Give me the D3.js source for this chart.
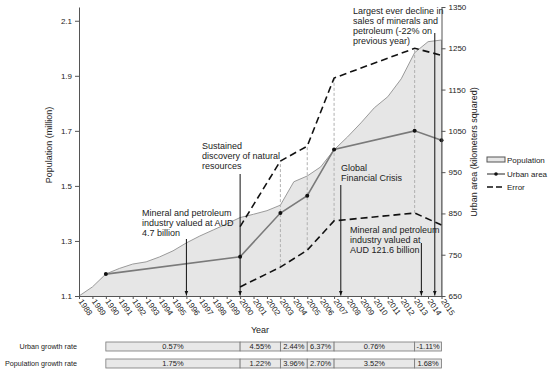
<!DOCTYPE html>
<html><head><meta charset="utf-8">
<script src="https://cdn.jsdelivr.net/npm/d3@7"></script>
<style>
body{margin:0;background:#fff;}
svg text{font-family:"Liberation Sans",Arial,sans-serif;fill:#222;}
</style></head>
<body><svg id="c" width="550" height="371"></svg>
<script>
const years=[1988,1989,1990,1991,1992,1993,1994,1995,1996,1997,1998,1999,2000,2001,2002,2003,2004,2005,2006,2007,2008,2009,2010,2011,2012,2013,2014,2015];
const population=[1.10,1.133,1.18,1.20,1.216,1.224,1.242,1.264,1.293,1.318,1.34,1.362,1.385,1.397,1.41,1.43,1.515,1.536,1.569,1.631,1.678,1.729,1.784,1.824,1.889,1.984,2.024,2.03];
const urbanYears=[1990,2000,2003,2005,2007,2013,2015];
const urbanArea=[703,745,851,893,1005,1050,1027];
const errorYears=[2000,2003,2005,2007,2013,2015];
const errorUpper=[818,977,1013,1178,1250,1233];
const errorLower=[672,720,761,832,851,822];
const leftTicks=[1.1,1.3,1.5,1.7,1.9,2.1];
const rightTicks=[650,750,850,950,1050,1150,1250,1350];
const periodStart=[1990,2000,2003,2005,2007,2013];
const periodEnd=[2000,2003,2005,2007,2013,2015];
const urbanGrowth=["0.57%","4.55%","2.44%","6.37%","0.76%","-1.11%"];
const popGrowth=["1.75%","1.22%","3.96%","2.70%","3.52%","1.68%"];
const annotations=[
 {year:1996,lines:["Mineral and petroleum","industry valued at AUD","4.7 billion"]},
 {year:2000,lines:["Sustained","discovery of natural","resources"]},
 {year:2007.5,lines:["Global","Financial Crisis"]},
 {year:2013.5,lines:["Mineral and petroleum","industry valued at","AUD 121.6 billion"]},
 {year:2014.5,lines:["Largest ever decline in","sales of minerals and","petroleum (-22% on","previous year)"]}
];

const svg=d3.select("#c");
const x=d3.scaleLinear().domain([1988,2015]).range([79,441.5]);
const yL=d3.scaleLinear().domain([1.1,2.15]).range([296,7]);
const yR=d3.scaleLinear().domain([650,1350]).range([296,7]);

svg.append("defs").append("marker").attr("id","ah").attr("viewBox","0 0 10 10")
 .attr("refX",10).attr("refY",5).attr("markerWidth",5).attr("markerHeight",5).attr("orient","auto")
 .append("path").attr("d","M0,1L10,5L0,9Z").attr("fill","#111");

// population area
const popData=years.map((y,i)=>({y,v:population[i]}));
svg.append("path").datum(popData)
 .attr("d",d3.area().x(d=>x(d.y)).y0(yL(1.1)).y1(d=>yL(d.v)))
 .attr("fill","#e6e6e6").attr("stroke","none");
svg.append("path").datum(popData)
 .attr("d",d3.line().x(d=>x(d.y)).y(d=>yL(d.v)))
 .attr("fill","none").attr("stroke","#9a9a9a").attr("stroke-width",1);
svg.append("line").attr("x1",x(2015)).attr("x2",x(2015)).attr("y1",yL(population[population.length-1])).attr("y2",yL(1.1))
 .attr("stroke","#9a9a9a");

// vertical grey dashed error connectors
errorYears.forEach((yr,i)=>{
 if(yr===2000||yr===2015) return;
 svg.append("line").attr("x1",x(yr)).attr("x2",x(yr)).attr("y1",yR(errorLower[i])).attr("y2",yR(errorUpper[i]))
  .attr("stroke","#b0b0b0").attr("stroke-width",1).attr("stroke-dasharray","3,2");
});

// error lines
const eLine=d3.line().x(d=>x(d[0])).y(d=>yR(d[1]));
[errorUpper,errorLower].forEach(arr=>{
 svg.append("path").datum(errorYears.map((yr,i)=>[yr,arr[i]]))
  .attr("d",eLine).attr("fill","none").attr("stroke","#111").attr("stroke-width",1.6).attr("stroke-dasharray","7,4");
});

// urban line
const uData=urbanYears.map((yr,i)=>[yr,urbanArea[i]]);
svg.append("path").datum(uData).attr("d",eLine).attr("fill","none").attr("stroke","#7a7a7a").attr("stroke-width",1.6);
svg.selectAll(".ud").data(uData).enter().append("circle")
 .attr("cx",d=>x(d[0])).attr("cy",d=>yR(d[1])).attr("r",2).attr("fill","#111");

// axes
const gL=svg.append("g").attr("transform",`translate(${x(1988)},0)`)
 .call(d3.axisLeft(yL).tickValues(leftTicks).tickFormat(d3.format(".1f")).tickSize(4).tickSizeOuter(0));
const gR=svg.append("g").attr("transform",`translate(${x(2015)},0)`)
 .call(d3.axisRight(yR).tickValues(rightTicks).tickFormat(d3.format("d")).tickSize(4).tickSizeOuter(0));
const gB=svg.append("g").attr("transform",`translate(0,${yL(1.1)})`)
 .call(d3.axisBottom(x).tickValues(years).tickFormat(d3.format("d")).tickSize(3).tickSizeOuter(0));
[gL,gR,gB].forEach(g=>{
 g.selectAll("path,line").attr("stroke","#555");
 g.selectAll("text").attr("font-size",8).attr("fill","#222").style("font-family","Liberation Sans, Arial, sans-serif");
});
gB.selectAll("text").attr("text-anchor","start").attr("dy",null).attr("y",null)
 .attr("transform","translate(1,4) rotate(55)").attr("dy","0.35em");

// axis titles
svg.append("text").attr("transform","translate(52,145) rotate(-90)").attr("text-anchor","middle").attr("font-size",9).text("Population (million)");
svg.append("text").attr("transform","translate(477,152) rotate(-90)").attr("text-anchor","middle").attr("font-size",9).text("Urban area (kilometers squared)");
svg.append("text").attr("x",260).attr("y",333).attr("text-anchor","middle").attr("font-size",9).text("Year");

// annotations
const annPos=[
 {tx:142,ty:216,top:239},
 {tx:202,ty:149,top:174},
 {tx:341,ty:171,top:185},
 {tx:350,ty:233,top:243},
 {tx:353,ty:14,top:33}
];
annotations.forEach((a,i)=>{
 const p=annPos[i];
 const t=svg.append("text").attr("font-size",9);
 a.lines.forEach((l,j)=>t.append("tspan").attr("x",p.tx).attr("y",p.ty+j*10).text(l));
 svg.append("line").attr("x1",x(a.year)).attr("x2",x(a.year)).attr("y1",p.top).attr("y2",yL(1.1)-0.5)
  .attr("stroke","#111").attr("stroke-width",1).attr("marker-end","url(#ah)");
});

// legend
const lg=svg.append("g");
lg.append("rect").attr("x",487).attr("y",157).attr("width",18).attr("height",5).attr("fill","#e6e6e6").attr("stroke","#555");
lg.append("text").attr("x",507).attr("y",163).attr("font-size",8).text("Population");
lg.append("line").attr("x1",487).attr("x2",505).attr("y1",174).attr("y2",174).attr("stroke","#555").attr("stroke-width",1.3);
lg.append("circle").attr("cx",496).attr("cy",174).attr("r",1.8).attr("fill","#111");
lg.append("text").attr("x",507).attr("y",177).attr("font-size",8).text("Urban area");
lg.append("line").attr("x1",487).attr("x2",505).attr("y1",187).attr("y2",187).attr("stroke","#111").attr("stroke-width",1.5).attr("stroke-dasharray","6,3");
lg.append("text").attr("x",507).attr("y",190).attr("font-size",8).text("Error");

// growth table
const rows=[{label:"Urban growth rate",vals:urbanGrowth,y:342},{label:"Population growth rate",vals:popGrowth,y:359}];
rows.forEach(r=>{
 svg.append("text").attr("x",77).attr("y",r.y+7).attr("text-anchor","end").attr("font-size",7.2).text(r.label);
 periodStart.forEach((s,i)=>{
  svg.append("rect").attr("x",x(s)).attr("y",r.y).attr("width",x(periodEnd[i])-x(s)).attr("height",9)
   .attr("fill","#e8e8e8").attr("stroke","#777").attr("stroke-width",0.8);
  svg.append("text").attr("x",(x(s)+x(periodEnd[i]))/2).attr("y",r.y+7.3).attr("text-anchor","middle").attr("font-size",7.5).text(r.vals[i]);
 });
});
</script></body></html>
